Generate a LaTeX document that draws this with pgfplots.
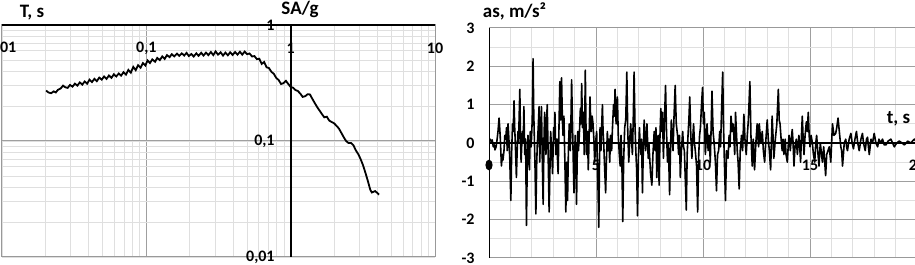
\documentclass[border=0pt]{standalone}
\usepackage{pgfplots}
\pgfplotsset{compat=1.18}
\usepackage{fontspec}
\setmainfont{Carlito}
\newcommand{\tl}{\bfseries\fontsize{8}{9}\selectfont}
\newcommand{\ttl}{\bfseries\fontsize{9.5}{11}\selectfont}
\begin{document}
\begin{tikzpicture}[x=1pt,y=1pt]
\begin{axis}[
 at={(1pt,4pt)}, anchor=south west,
 scale only axis, width=216.5pt, height=116pt,
 xmode=log, ymode=log,
 xmin=0.01,xmax=10,ymin=0.01,ymax=1,
 xtick={0.01,0.1,1,10}, xticklabels={{0,01},{0,1},1,10},
 ytick={0.01,0.1,1}, yticklabels={{0,01},{0,1},1},
 xticklabel pos=upper,
 xticklabel style={anchor=center, inner sep=0pt, yshift=-11.5pt, font=\tl},
 yticklabel style={anchor=east, inner sep=0pt, xshift=136.5pt, font=\tl},
 major tick length=0pt, minor tick length=0pt,
 grid=both,
 major grid style={draw=gray!75, line width=0.5pt},
 minor grid style={draw=gray!25, line width=0.4pt},
 axis line style={draw=gray!80, line width=0.5pt},
]
\addplot[black, line width=0.9pt] coordinates {
(0.0202,0.272)(0.0210,0.262)(0.0219,0.258)(0.0228,0.268)(0.0236,0.262)(0.0244,0.276)
(0.0255,0.284)(0.0265,0.300)(0.0275,0.290)(0.0285,0.287)(0.0296,0.304)(0.0308,0.294)
(0.0320,0.312)(0.0333,0.300)(0.0346,0.320)(0.0360,0.306)(0.0374,0.326)(0.0389,0.312)
(0.0404,0.338)(0.0420,0.322)(0.0437,0.344)(0.0454,0.328)(0.0472,0.352)(0.0491,0.338)
(0.0510,0.360)(0.0530,0.343)(0.0551,0.367)(0.0573,0.350)(0.0596,0.376)(0.0619,0.360)
(0.0644,0.382)(0.0669,0.366)(0.0695,0.392)(0.0723,0.374)(0.0751,0.410)(0.0781,0.388)
(0.0812,0.435)(0.0844,0.408)(0.0877,0.450)(0.0912,0.428)(0.0948,0.470)(0.0985,0.448)
(0.102,0.495)(0.106,0.470)(0.110,0.505)(0.115,0.482)(0.119,0.520)(0.124,0.498)
(0.129,0.536)(0.134,0.510)(0.139,0.550)(0.145,0.528)(0.150,0.560)(0.156,0.537)
(0.163,0.566)(0.169,0.542)(0.176,0.570)(0.183,0.545)(0.190,0.575)(0.197,0.540)
(0.205,0.562)(0.213,0.535)(0.222,0.570)(0.230,0.542)(0.240,0.576)(0.249,0.545)
(0.259,0.578)(0.269,0.550)(0.280,0.585)(0.291,0.550)(0.302,0.592)(0.314,0.555)
(0.327,0.582)(0.340,0.545)(0.353,0.578)(0.367,0.548)(0.381,0.582)(0.396,0.552)
(0.412,0.585)(0.428,0.555)(0.445,0.588)(0.462,0.555)(0.480,0.590)(0.499,0.560)
(0.519,0.568)(0.540,0.535)(0.561,0.540)(0.583,0.508)(0.606,0.512)(0.630,0.462)
(0.655,0.480)(0.681,0.432)(0.708,0.425)(0.735,0.395)(0.764,0.380)(0.794,0.350)
(0.826,0.335)(0.858,0.310)(0.892,0.315)(0.927,0.330)(0.963,0.310)(1.00,0.292)
(1.04,0.288)(1.08,0.275)(1.12,0.270)(1.17,0.255)(1.21,0.240)(1.26,0.243)
(1.31,0.253)(1.36,0.252)(1.41,0.232)(1.47,0.212)(1.53,0.195)(1.59,0.182)
(1.65,0.170)(1.71,0.160)(1.78,0.162)(1.85,0.150)(1.92,0.146)(2.00,0.142)
(2.08,0.135)(2.16,0.128)(2.24,0.118)(2.33,0.108)(2.42,0.100)(2.52,0.096)
(2.62,0.096)(2.72,0.092)(2.83,0.083)(2.94,0.077)(3.05,0.070)(3.17,0.062)
(3.30,0.053)(3.43,0.045)(3.56,0.038)(3.65,0.036)(3.75,0.0365)(3.85,0.037)
(3.95,0.036)(4.10,0.0345)
};
\draw[black, line width=1pt] (rel axis cs:0,1) -- (rel axis cs:1,1);
\draw[black, line width=1pt] (axis cs:1,0.01) -- (axis cs:1,1);
\end{axis}

\begin{axis}[
 at={(244.5pt,3.5pt)}, anchor=south west,
 scale only axis, width=214pt, height=115pt,
 xmin=0,xmax=20,ymin=-3,ymax=3,
 xtick={0,5,10,15,20}, xticklabels={{\tikz\fill (0,0) ellipse (1.8pt and 2.7pt);},5,10,15,20},
 ytick={-3,-2,-1,0,1,2,3}, yticklabels={-3,-2,-1,0,1,2,3},
 minor x tick num=4, minor y tick num=1,
 xticklabel style={anchor=center, inner sep=0pt, yshift=46.5pt, font=\tl},
 yticklabel style={anchor=east, inner sep=0pt, xshift=-7pt, font=\tl},
 major tick length=0pt, minor tick length=0pt,
 grid=both,
 major grid style={draw=gray!75, line width=0.5pt},
 minor grid style={draw=gray!25, line width=0.4pt},
 axis line style={draw=gray!80, line width=0.5pt},
]
\addplot[black, line width=0.8pt, line join=round] coordinates {
(0.00,0)(0.05,0.1)(0.1,0.05)(0.15,0.08)(0.2,-0.1)(0.25,-0.05)(0.28,-0.18)(0.33,-0.1)
(0.38,0.1)(0.42,0.3)(0.47,0.65)(0.5,0.4)(0.53,0.1)(0.58,-0.6)(0.62,-0.3)(0.65,-0.45)
(0.7,-0.2)(0.74,0.2)(0.78,0.1)(0.82,0.4)(0.85,-0.2)(0.89,0.5)(0.93,0.1)(0.97,-0.4)
(1.02,-1.5)(1.06,-0.2)(1.1,0.5)(1.13,0.3)(1.17,1.1)(1.2,0.4)(1.23,0.0)(1.28,-0.9)
(1.31,-0.3)(1.35,0.3)(1.38,0.0)(1.44,1.4)(1.47,0.2)(1.5,-0.5)(1.54,0.1)(1.56,0.3)
(1.6,0.0)(1.63,0.95)(1.67,-0.3)(1.71,0.1)(1.75,-2.15)(1.79,-0.4)(1.82,0.2)(1.86,-0.2)
(1.89,-0.7)(1.93,0.3)(1.97,-0.1)(2.02,0.6)(2.06,2.2)(2.09,0.8)(2.12,0.1)(2.15,-0.6)
(2.19,-1.85)(2.23,-0.5)(2.26,0.0)(2.3,0.4)(2.34,0.95)(2.37,-0.5)(2.41,0.3)(2.45,0.95)
(2.49,-0.4)(2.53,-1.6)(2.57,0.1)(2.6,0.8)(2.63,0.2)(2.66,-0.3)(2.69,0.5)(2.72,1.0)
(2.76,-0.2)(2.81,-1.8)(2.85,-0.6)(2.88,0.3)(2.92,-0.1)(2.97,-0.8)(3.02,0.4)(3.05,0.1)
(3.08,0.8)(3.12,-0.3)(3.17,0.1)(3.2,-0.4)(3.23,-0.8)(3.27,0.4)(3.31,1.6)(3.35,0.6)
(3.39,1.7)(3.43,0.6)(3.46,0.2)(3.5,0.7)(3.55,-0.6)(3.59,-1.8)(3.63,-0.5)(3.67,-1.5)
(3.71,-0.2)(3.75,0.5)(3.78,0.0)(3.8,-0.2)(3.83,0.6)(3.86,1.65)(3.89,0.8)(3.92,0.0)
(3.97,-1.3)(4.0,-0.3)(4.03,0.2)(4.06,-0.5)(4.09,-1.6)(4.12,-0.4)(4.15,0.3)(4.18,-0.2)
(4.22,0.2)(4.27,0.9)(4.3,0.5)(4.33,1.55)(4.37,0.4)(4.41,0.8)(4.45,-0.3)(4.48,0.8)
(4.5,1.9)(4.53,0.5)(4.56,-0.3)(4.6,0.3)(4.64,-0.7)(4.68,0.2)(4.72,1.2)(4.75,0.6)
(4.78,0.3)(4.82,0.7)(4.86,0.5)(4.9,0.1)(4.94,-0.5)(4.98,0.0)(5.03,0.3)(5.08,-0.8)
(5.13,-2.2)(5.16,-0.6)(5.19,0.4)(5.23,-0.2)(5.27,0.5)(5.3,1.0)(5.33,0.3)(5.36,0.0)
(5.4,-0.6)(5.45,-1.3)(5.49,-0.4)(5.53,0.3)(5.57,-0.2)(5.6,0.1)(5.64,-0.5)(5.68,0.2)
(5.73,-0.2)(5.77,0.4)(5.82,1.0)(5.86,0.7)(5.89,1.4)(5.94,0.5)(5.97,0.9)(6.0,1.2)
(6.04,0.2)(6.09,-0.3)(6.13,-0.6)(6.17,0.2)(6.21,-0.5)(6.25,-2.05)(6.29,-0.5)(6.34,0.4)
(6.39,0.6)(6.44,1.85)(6.48,0.4)(6.53,-0.5)(6.57,0.0)(6.62,0.5)(6.66,0.1)(6.7,-0.3)
(6.74,0.6)(6.78,1.85)(6.82,0.5)(6.86,-0.2)(6.9,-0.7)(6.94,-1.9)(6.98,-0.4)(7.03,0.4)
(7.06,0.0)(7.1,-0.3)(7.13,0.1)(7.17,-1.3)(7.21,-0.2)(7.25,0.6)(7.28,0.2)(7.32,-0.2)
(7.35,0.2)(7.38,0.5)(7.44,-0.4)(7.47,0.0)(7.5,-0.3)(7.55,-0.8)(7.61,-1.1)(7.66,-0.3)
(7.72,0.3)(7.76,-0.2)(7.8,0.4)(7.84,-0.9)(7.87,-0.3)(7.9,0.2)(7.95,-1.1)(7.99,0.2)
(8.03,0.9)(8.07,0.3)(8.11,0.8)(8.15,-0.4)(8.2,0.6)(8.25,1.5)(8.29,0.4)(8.34,-0.5)
(8.38,0.0)(8.44,-1.35)(8.48,-0.2)(8.52,0.6)(8.56,0.1)(8.6,-0.2)(8.64,0.6)(8.7,1.5)
(8.75,0.5)(8.81,0.2)(8.86,-0.3)(8.9,0.2)(8.94,-0.9)(8.99,-0.2)(9.05,0.3)(9.09,-0.1)
(9.13,-0.2)(9.17,-0.9)(9.22,-1.75)(9.26,-0.3)(9.3,0.2)(9.34,0.6)(9.38,1.2)(9.43,0.2)
(9.48,-0.4)(9.52,0.1)(9.56,0.5)(9.6,0.0)(9.64,-0.2)(9.7,-0.6)(9.75,-1.8)(9.8,-0.3)
(9.84,0.2)(9.88,0.4)(9.93,1.0)(9.98,1.45)(10.02,0.5)(10.06,0.8)(10.11,-0.3)(10.15,0.1)
(10.19,0.5)(10.24,-0.2)(10.29,0.2)(10.34,-0.5)(10.38,0.4)(10.42,1.35)(10.47,0.3)(10.52,0.0)
(10.58,-0.5)(10.63,-1.25)(10.68,-0.3)(10.73,-0.2)(10.78,0.3)(10.82,-0.1)(10.86,0.7)(10.92,1.85)
(10.96,0.4)(11.0,-0.5)(11.05,-1.5)(11.1,-0.2)(11.17,-0.4)(11.22,0.2)(11.26,-0.1)(11.31,0.7)
(11.36,0.3)(11.4,0.5)(11.44,0.2)(11.48,-0.3)(11.52,0.8)(11.56,0.3)(11.6,-0.2)(11.64,-0.5)
(11.69,-1.2)(11.74,-0.2)(11.8,0.2)(11.85,-0.2)(11.91,0.75)(11.96,0.1)(12.02,-0.3)(12.07,0.2)
(12.12,0.6)(12.19,1.6)(12.24,0.2)(12.3,-0.6)(12.35,0.1)(12.41,-0.7)(12.47,0.0)(12.53,0.5)
(12.57,0.1)(12.6,-0.1)(12.63,0.5)(12.7,0.0)(12.77,0.3)(12.82,-0.2)(12.88,-0.5)(12.94,0.1)
(13.0,0.6)(13.05,0.1)(13.1,-0.2)(13.16,-0.7)(13.2,0.1)(13.23,0.7)(13.27,0.2)(13.31,-0.4)
(13.38,0.1)(13.45,0.5)(13.52,1.4)(13.56,0.6)(13.6,0.5)(13.65,0.1)(13.7,-0.2)(13.74,0.1)
(13.78,-0.3)(13.84,0.1)(13.88,-0.3)(13.94,-0.5)(13.98,-0.1)(14.02,0.2)(14.08,-0.2)(14.12,0.1)
(14.17,0.35)(14.21,0.0)(14.25,-0.6)(14.3,-0.1)(14.36,0.1)(14.41,-0.3)(14.48,0.2)(14.52,-0.1)
(14.56,-0.5)(14.6,0.2)(14.64,0.7)(14.68,0.1)(14.72,-0.3)(14.77,0.2)(14.83,0.55)(14.87,0.3)
(14.92,0.8)(14.96,0.2)(15.0,-0.1)(15.05,0.2)(15.11,0.0)(15.16,-0.3)(15.22,-0.5)(15.27,0.0)
(15.31,0.2)(15.36,-0.2)(15.42,-0.6)(15.48,0.0)(15.52,-0.2)(15.58,-0.5)(15.64,-0.1)(15.73,-0.85)
(15.78,-0.3)(15.84,-0.2)(15.9,-0.1)(15.97,-0.5)(16.01,0.0)(16.05,0.5)(16.12,0.2)(16.2,0.25)
(16.25,0.4)(16.31,0.65)(16.37,0.3)(16.44,-0.1)(16.48,-0.2)(16.52,-0.6)(16.6,0.0)(16.67,0.1)
(16.71,-0.1)(16.75,-0.2)(16.83,0.1)(16.91,0.25)(16.97,0.0)(17.03,-0.15)(17.1,0.1)(17.17,0.3)
(17.23,0.0)(17.3,-0.2)(17.38,0.1)(17.45,0.25)(17.5,0.0)(17.58,-0.2)(17.64,0.1)(17.69,0.15)
(17.73,-0.1)(17.77,-0.3)(17.85,0.1)(17.92,0.0)(18.0,0.25)(18.08,0.0)(18.16,-0.1)(18.22,0.1)
(18.3,0.0)(18.39,0.1)(18.47,-0.05)(18.55,-0.05)(18.65,0.05)(18.78,0.1)(18.86,0.0)(18.94,-0.1)
(19.05,0.0)(19.17,0.05)(19.3,0.0)(19.41,-0.05)(19.5,0.0)(19.56,0.05)(19.65,0.02)(19.72,0.0)
(19.8,0.06)(19.88,0.1)(20,0)
};
\draw[black, line width=1pt] (rel axis cs:0,0) -- (rel axis cs:0,1);
\draw[black, line width=1pt] (axis cs:0,0) -- (axis cs:20,0);
\end{axis}
\node[font=\ttl] at (16,126.25) {T, s};
\node[font=\ttl] at (150,127.75) {SA/g};
\node[font=\ttl] at (257.25,126.75) {as, m/s²};
\node[font=\ttl] at (449.25,73) {t, s};
\pgfresetboundingbox
\path (0,0) rectangle (457.5,132.5);
\end{tikzpicture}
\end{document}
